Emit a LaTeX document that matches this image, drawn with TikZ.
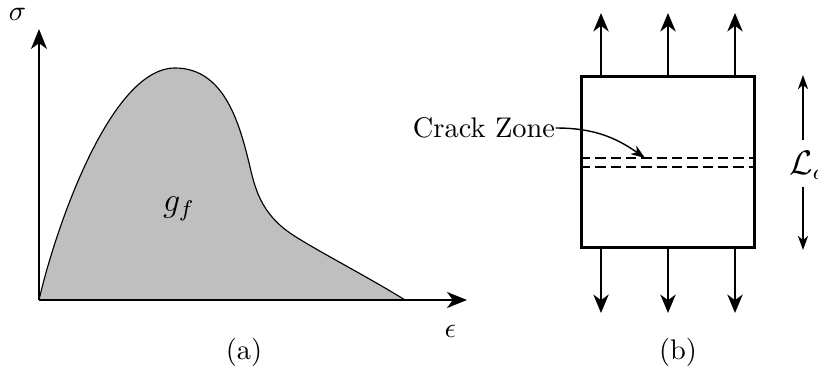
\documentclass[tikz,border=0pt]{standalone}
\usetikzlibrary{arrows.meta}
\definecolor{areagray}{RGB}{191,191,191}
\begin{document}
\begin{tikzpicture}[x=0.352pt,y=-0.352pt,
  axis/.style={line width=0.75pt,-{Stealth[length=7pt,width=5.6pt,inset=2pt]}},
  force/.style={line width=0.75pt,-{Stealth[length=6.5pt,width=5.4pt,inset=2pt]}},
  thinarrow/.style={line width=0.5pt,-{Stealth[length=5pt,width=3.6pt,inset=1.5pt]}},
  specimen/.style={line width=1.2pt},
  crackline/.style={line width=0.9pt,dash pattern=on 3.6pt off 1.8pt},
  lbl/.style={inner sep=0pt}]
\useasboundingbox (0,0) rectangle (818,379);
% (a) softening curve
\coordinate (O) at (39,300);
\coordinate (E) at (405,300);
\coordinate (Ytip) at (39,29);
\coordinate (Xtip) at (467,300);
\def\softcurve{(O) .. controls (55,230) and (110,68) .. (175,68)
  .. controls (225,68) and (240,125) .. (250,167)
  .. controls (255,188) and (261,213) .. (290,233)
  .. controls (310,247) and (370,278) .. (E)}
\fill[areagray] \softcurve -- cycle;
\draw[line width=0.4pt] \softcurve;
\draw[axis] (O) -- (Ytip);
\draw[axis] (O) -- (Xtip);
\node[lbl] (sig) at (17.5,14) {$\sigma$};
\node[lbl] (eps) at (450.5,331) {$\epsilon$};
\node[lbl] (gf) at (179,209) {\large $g_f$};
\node[lbl] (capa) at (244,352.5) {(a)};
% (b) specimen
\node[specimen,draw,minimum width=176*0.352pt-1.2pt,minimum height=174*0.352pt-1.2pt,inner sep=0pt] (box) at (668,162) {};
\coordinate (u1) at (601,13);
\coordinate (u2) at (668,13);
\coordinate (u3) at (735,13);
\coordinate (d1) at (601,313);
\coordinate (d2) at (668,313);
\coordinate (d3) at (735,313);
\draw[force] (box.north west -| u1) -- (u1);
\draw[force] (box.north -| u2) -- (u2);
\draw[force] (box.north east -| u3) -- (u3);
\draw[force] (box.south west -| d1) -- (d1);
\draw[force] (box.south -| d2) -- (d2);
\draw[force] (box.south east -| d3) -- (d3);
\coordinate (c1l) at (580,158); \coordinate (c1r) at (756,158);
\coordinate (c2l) at (580,167); \coordinate (c2r) at (756,167);
\draw[crackline] (c1l) -- (c1r);
\draw[crackline] (c2l) -- (c2r);
\node[lbl] (cz) at (484,128) {Crack Zone};
\coordinate (czt) at (645,158);
\draw[thinarrow] (cz.east) to[out=0,in=145] (czt);
% L_c dimension
\node[lbl] (lc) at (807,165) {\large $\mathcal{L}_c$};
\coordinate (lt) at (803,75);
\coordinate (lb) at (803,250);
\draw[thinarrow] (803,140) -- (lt);
\draw[thinarrow] (803,187) -- (lb);
\node[lbl] (capb) at (678,352.5) {(b)};
\end{tikzpicture}
\end{document}
